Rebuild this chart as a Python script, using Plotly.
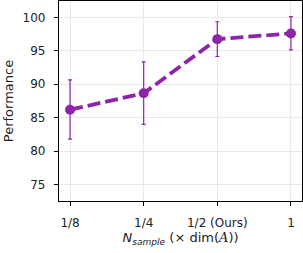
import plotly.graph_objects as go

categories = ["1/8", "1/4", "1/2 (Ours)", "1"]
performance = [86.2, 88.65, 96.75, 97.6]
err_plus = [4.45, 4.7, 2.6, 2.5]
err_minus = [4.4, 4.65, 2.6, 2.45]
y_ticks = [75, 80, 85, 90, 95, 100]

color = "#8E24AA"
fig = go.Figure()
fig.add_trace(go.Scatter(
    x=list(range(len(categories))), y=performance,
    mode="lines+markers",
    line=dict(color=color, width=3.8, dash="13px,5px"),
    marker=dict(color=color, size=10),
    error_y=dict(type="data", symmetric=False, array=err_plus, arrayminus=err_minus,
                 color=color, thickness=1.2, width=2),
    showlegend=False,
))
tick_font = dict(family="DejaVu Sans", size=12, color="#222")
title_font = dict(family="DejaVu Sans", size=13, color="#222")
axis_common = dict(showline=True, linecolor="black", linewidth=1.2, mirror=True,
                   ticks="outside", ticklen=4, tickcolor="black", tickwidth=1.2,
                   showgrid=True, gridcolor="#e8e8e8", gridwidth=0.8, zeroline=False,
                   tickfont=tick_font, automargin=False)
fig.update_xaxes(range=[-0.15, 3.15], tickmode="array",
                 tickvals=list(range(len(categories))), ticktext=categories,
                 ticklabelstandoff=6,
                 title=dict(text="<i>N</i><sub><i>sample</i></sub> (× dim(<span style='font-family:DejaVu Serif'><i>A</i></span>))",
                            font=title_font, standoff=4),
                 **axis_common)
fig.update_yaxes(range=[72.55, 102.45], tickmode="array", tickvals=y_ticks,
                 ticklabelstandoff=6,
                 title=dict(text="Performance", font=title_font, standoff=6),
                 **axis_common)
fig.update_layout(width=303, height=253, margin=dict(l=59, r=1, t=1, b=52),
                  plot_bgcolor="white", paper_bgcolor="white")
fig.write_html("out.html", config={"displayModeBar": False},
               post_script="document.body.style.margin='0';document.body.style.padding='0';")
